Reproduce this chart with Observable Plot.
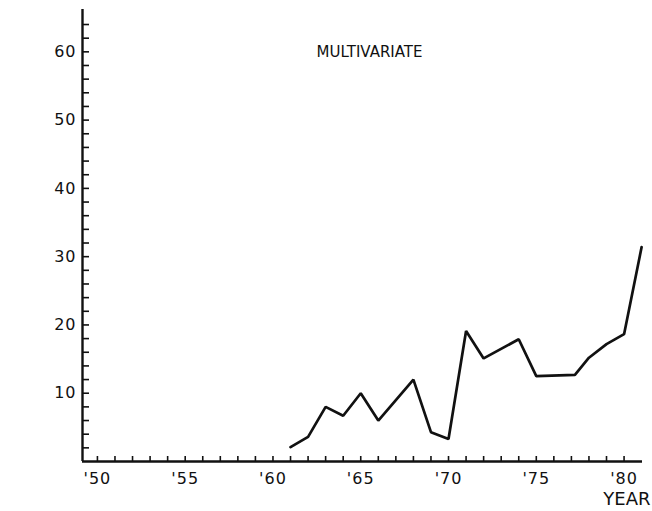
<!DOCTYPE html>
<html>
<head>
<meta charset="utf-8">
<script src="https://cdn.jsdelivr.net/npm/d3@7"></script>
<script src="https://cdn.jsdelivr.net/npm/@observablehq/plot@0.6"></script>
<style>
  html, body { margin: 0; padding: 0; background: #fff; }
  #chart svg { display: block; }
  #chart svg g[aria-label="x-axis tick label"] text,
  #chart svg g[aria-label="y-axis tick label"] text { font-size: 16px; letter-spacing: 1px; }
</style>
</head>
<body>
<div id="chart"></div>
<script>
const years  = [1961, 1962, 1963, 1964, 1965, 1966, 1968, 1969, 1970, 1971, 1972, 1974, 1975, 1977.2, 1978, 1979, 1980, 1981];
const values = [2.1, 3.6, 8.0, 6.7, 10.0, 6.0, 12.0, 4.3, 3.3, 19.1, 15.1, 17.9, 12.5, 12.7, 15.2, 17.2, 18.65, 31.4];
const xTickYears  = d3.range(1950, 1981, 1);
const xLabelYears = [1950, 1955, 1960, 1965, 1970, 1975, 1980];
const yTicks      = d3.range(2, 65, 2);
const yLabels     = [10, 20, 30, 40, 50, 60];
const title = "MULTIVARIATE";
const xTitle = "YEAR";

const data = years.map((y, i) => ({year: y, value: values[i]}));

const W = 652, H = 511;
const mL = 82, mR = 10, mT = 9, mB = 50;
const innerW = W - mL - mR, innerH = H - mT - mB;
const font = "'DejaVu Sans', Verdana, sans-serif";

const chart = Plot.plot({
  width: W,
  height: H,
  marginLeft: mL,
  marginRight: mR,
  marginTop: mT,
  marginBottom: mB,
  style: {fontFamily: font, fontSize: "16px", color: "#111", background: "#fff"},
  x: {domain: [1949.15, 1981.05]},
  y: {domain: [0, 66.2]},
  marks: [
    Plot.axisX({ticks: xLabelYears, tickSize: 0, tickPadding: 11, tickFormat: d => "'" + String(d).slice(2), label: null}),
    Plot.axisY({ticks: yLabels, tickSize: 0, tickPadding: 6, label: null}),
    Plot.ruleX(xTickYears, {insetTop: innerH - 5, stroke: "#111", strokeWidth: 1.6}),
    Plot.ruleY(yTicks, {insetRight: innerW - 7, stroke: "#111", strokeWidth: 1.6}),
    Plot.ruleY([0], {stroke: "#111", strokeWidth: 2.4}),
    Plot.ruleX([1949.15], {stroke: "#111", strokeWidth: 2.4}),
    Plot.line(data, {x: "year", y: "value", stroke: "#111", strokeWidth: 2.7, strokeLinejoin: "miter"}),
    Plot.text([title], {x: [1965.5], y: [60.0], text: d => d, fontSize: 15, fill: "#111", fontFamily: font}),
    Plot.text([xTitle], {frameAnchor: "bottom-right", text: d => d, dy: 37.5, dx: 8, fontSize: 18, textAnchor: "end", lineAnchor: "middle", fill: "#111", fontFamily: font})
  ]
});

document.getElementById("chart").appendChild(chart);
</script>
</body>
</html>
